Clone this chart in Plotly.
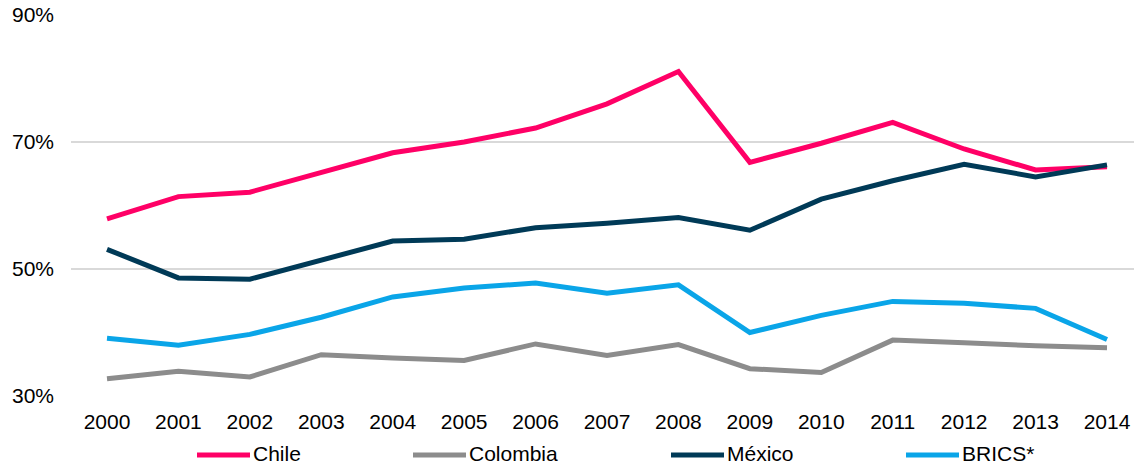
import plotly.graph_objects as go

# Share of GDP (%) by year
years = list(range(2000, 2015))
chile = [57.9, 61.4, 62.1, 65.1, 68.3, 70.0, 72.2, 76.0, 81.1, 66.8, 69.8, 73.1, 68.9, 65.6, 66.1]
colombia = [32.7, 33.9, 33.0, 36.5, 36.0, 35.6, 38.2, 36.4, 38.1, 34.3, 33.7, 38.8, 38.4, 37.9, 37.6]
mexico = [53.1, 48.6, 48.4, 51.3, 54.4, 54.7, 56.5, 57.2, 58.1, 56.1, 61.0, 63.9, 66.5, 64.5, 66.4]
brics = [39.1, 38.0, 39.7, 42.4, 45.6, 47.0, 47.8, 46.2, 47.5, 40.0, 42.7, 44.9, 44.6, 43.8, 38.9]

series_names = ["Chile", "Colombia", "México", "BRICS*"]
series_values = [chile, colombia, mexico, brics]
series_colors = ["#FF0066", "#8C8C8C", "#003A57", "#0AA5E8"]

y_ticks = [30, 50, 70, 90]
y_tick_labels = ["30%", "50%", "70%", "90%"]

W, H = 1134, 466
M_L, M_R, M_T, M_B = 71, 0, 15, 70
FONT = "Liberation Sans, Arial, sans-serif"
FONT_SIZE = 21

fig = go.Figure()
for name, vals, col in zip(series_names, series_values, series_colors):
    fig.add_trace(go.Scatter(
        x=years, y=vals, name=name, mode="lines",
        line=dict(color=col, width=5), showlegend=False,
    ))

# Custom legend row below the x axis
plot_w = W - M_L - M_R
plot_h = H - M_T - M_B


def px_x(px):
    return (px - M_L) / plot_w


def px_y(py):
    return (H - M_B - py) / plot_h


legend_line_starts = [197, 413, 671, 906]
legend_line_y = 455
legend_text_y = 453.5
line_len = 53
for name, col, x0 in zip(series_names, series_colors, legend_line_starts):
    fig.add_shape(type="line", xref="paper", yref="paper",
                  x0=px_x(x0), x1=px_x(x0 + line_len),
                  y0=px_y(legend_line_y), y1=px_y(legend_line_y),
                  line=dict(color=col, width=5))
    fig.add_annotation(xref="paper", yref="paper",
                       x=px_x(x0 + line_len + 2), y=px_y(legend_text_y),
                       text=name, showarrow=False, xanchor="left", yanchor="middle",
                       borderpad=0,
                       font=dict(family=FONT, size=FONT_SIZE, color="#000000"))

fig.update_layout(
    width=W, height=H,
    margin=dict(l=M_L, r=M_R, t=M_T, b=M_B),
    paper_bgcolor="white", plot_bgcolor="white",
    font=dict(family=FONT, size=FONT_SIZE, color="#000000"),
    xaxis=dict(
        range=[1999.496, 2014.378], tickmode="array", tickvals=years,
        ticktext=[str(y) for y in years], showgrid=False, zeroline=False,
        showline=False, ticks="", ticklabelstandoff=11,
    ),
    yaxis=dict(
        range=[30, 90], tickmode="array", tickvals=y_ticks, ticktext=y_tick_labels,
        showgrid=True, gridcolor="#D9D9D9", gridwidth=1.5, zeroline=False,
        showline=False, ticks="", ticklabelstandoff=16,
    ),
)

fig.write_html("out.html")
